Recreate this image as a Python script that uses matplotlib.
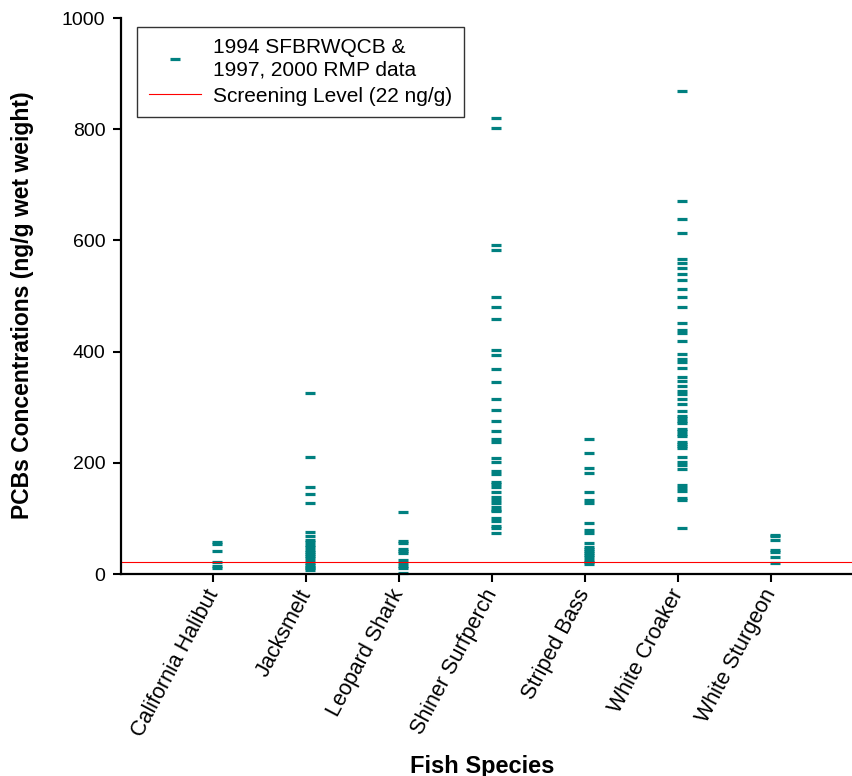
import matplotlib
matplotlib.use('Agg')
import matplotlib.pyplot as plt

plt.rcParams['font.family'] = ['Liberation Sans', 'DejaVu Sans']

# 鱼种
species = ['California Halibut', 'Jacksmelt', 'Leopard Shark', 'Shiner Surfperch',
           'Striped Bass', 'White Croaker', 'White Sturgeon']

# 各鱼种 PCBs 浓度 (ng/g wet weight)
california_halibut = [58, 54, 41, 22, 15, 11]
jacksmelt = [326, 210, 156, 144, 128, 75, 69, 62, 57, 52, 48, 44, 40, 36, 32, 28,
             24, 20, 16, 13, 10, 8]
leopard_shark = [112, 60, 56, 45, 42, 38, 25, 20, 15, 10, 2]
shiner_surfperch = [821, 802, 591, 583, 498, 480, 458, 402, 393, 369, 346, 314, 295,
                    276, 257, 242, 238, 208, 202, 185, 180, 166, 162, 157, 147, 138,
                    134, 127, 121, 116, 113, 100, 96, 86, 82, 73]
striped_bass = [242, 218, 191, 181, 148, 133, 127, 92, 80, 73, 56, 49, 45, 42, 38,
                34, 30, 26, 22, 18]
white_croaker = [868, 670, 639, 613, 567, 559, 550, 540, 529, 512, 499, 480, 451, 439,
                 433, 419, 396, 387, 381, 371, 354, 347, 339, 330, 324, 314, 305, 294,
                 285, 280, 276, 271, 261, 257, 252, 248, 238, 234, 230, 227, 211, 202,
                 196, 189, 160, 154, 149, 137, 133, 83]
white_sturgeon = [71, 68, 61, 43, 40, 31, 19]

screening_level = 22

all_values = [california_halibut, jacksmelt, leopard_shark, shiner_surfperch,
              striped_bass, white_croaker, white_sturgeon]

fig = plt.figure(figsize=(8.53, 7.76), dpi=100)
ax = fig.add_axes([0.1413, 0.2603, 0.8575, 0.7165])

teal = '#008080'
for i, vals in enumerate(all_values):
    xs = [i + 1 + 0.04] * len(vals)
    ax.plot(xs, vals, linestyle='none', marker='_', markersize=6.5, markeredgewidth=2.3,
            color=teal, clip_on=False,
            label='1994 SFBRWQCB &\n1997, 2000 RMP data' if i == 0 else None)

ax.axhline(screening_level, color='#ff0000', linewidth=0.8, label='Screening Level (22 ng/g)')

ax.set_xlim(0, 7.87)
ax.set_ylim(0, 1000)
ax.set_yticks(range(0, 1001, 200))
ax.set_xticks(range(1, len(species) + 1))
ax.set_xticklabels(species, rotation=62, ha='right', va='center', rotation_mode='anchor',
                   fontsize=15.5)
ax.tick_params(axis='y', labelsize=14, direction='out', length=6, width=1.5, pad=5)
ax.tick_params(axis='x', direction='out', length=6, width=1.5, pad=6)

for side in ['top', 'right']:
    ax.spines[side].set_visible(False)
for side in ['left', 'bottom']:
    ax.spines[side].set_linewidth(1.6)

ax.set_ylabel('PCBs Concentrations (ng/g wet weight)', fontsize=16.5, fontweight='bold')
ax.yaxis.set_label_coords(-0.118, 0.483)
ax.set_xlabel('Fish Species', fontsize=17, fontweight='bold')
ax.xaxis.set_label_coords(0.494, -0.325)

leg = ax.legend(loc='upper left', bbox_to_anchor=(0.0226, 0.9838), borderaxespad=0,
                fontsize=15, frameon=True, fancybox=False, edgecolor='black',
                handlelength=2.5, handletextpad=0.6, borderpad=0.55, labelspacing=0.35)
leg.get_frame().set_linewidth(1.0)

plt.savefig('out.png', dpi=100)
plt.close()
